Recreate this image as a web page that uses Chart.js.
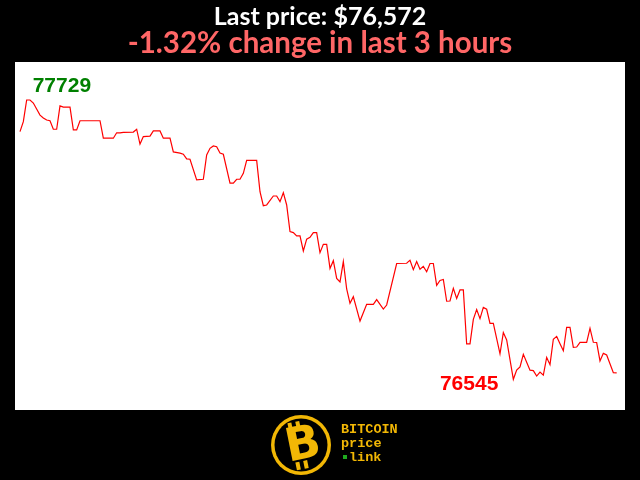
<!DOCTYPE html>
<html>
<head>
<meta charset="utf-8">
<script src="https://cdn.jsdelivr.net/npm/chart.js@4.4.0/dist/chart.umd.min.js"></script>
<style>
    html, body { margin: 0; padding: 0; background: #000; }
    canvas { display: block; }
</style>
</head>
<body>
<canvas id="priceChart" width="640" height="480"></canvas>
<script>
// minutes since start of the 3 hour window
const minutes = [0, 1, 2, 3, 4, 6, 7, 8, 9, 10, 11, 12, 13, 14, 15, 16, 17, 18, 24, 25,
    28, 29, 30, 31, 34, 35, 36, 37, 39, 40, 42, 43, 45, 46, 48, 49, 50, 51, 53, 55,
    56, 57, 58, 59, 60, 61, 63, 64, 65, 66, 67, 68, 71, 72, 73, 74, 76, 77, 78, 79,
    80, 81, 82, 83, 84, 85, 86, 87, 88, 89, 90, 91, 92, 93, 94, 95, 96, 97, 98, 99,
    100, 102, 104, 106, 107, 109, 110, 113, 116, 117, 118, 119, 120, 121, 122, 123, 124, 125, 126, 127,
    128, 129, 130, 131, 132, 133, 134, 135, 136, 137, 138, 139, 140, 141, 142, 144, 145, 146, 148, 149,
    150, 151, 153, 154, 155, 156, 157, 158, 159, 160, 161, 162, 163, 164, 165, 166, 167, 168, 170, 171,
    172, 173, 174, 175, 176, 178, 179];

const prices = [77595, 77637, 77729, 77729, 77716, 77665, 77653, 77644, 77641, 77605, 77605, 77704, 77699, 77699, 77699, 77602, 77602, 77641, 77641, 77567,
    77567, 77590, 77590, 77592, 77593, 77605, 77542, 77574, 77576, 77598, 77598, 77567, 77567, 77509, 77504, 77499, 77479, 77478, 77390, 77393,
    77496, 77524, 77534, 77531, 77504, 77499, 77377, 77377, 77393, 77393, 77418, 77473, 77473, 77340, 77281, 77284, 77322, 77322, 77298, 77336,
    77284, 77171, 77167, 77153, 77153, 77089, 77139, 77147, 77167, 77167, 77082, 77117, 77117, 77015, 77048, 76973, 76958, 77044, 76928, 76867,
    76895, 76792, 76863, 76863, 76883, 76843, 76860, 77036, 77037, 77050, 77010, 77044, 77012, 77024, 77001, 77036, 77036, 76943, 76964, 76968,
    76876, 76877, 76931, 76888, 76924, 76924, 76695, 76695, 76799, 76841, 76802, 76850, 76842, 76782, 76782, 76653, 76743, 76712, 76545, 76584,
    76598, 76651, 76584, 76582, 76559, 76576, 76563, 76638, 76607, 76715, 76727, 76696, 76666, 76765, 76765, 76681, 76682, 76702, 76702, 76761,
    76702, 76701, 76623, 76655, 76648, 76573, 76572];

const titleText = "Last price: $76,572";
const subtitleText = "-1.32% change in last 3 hours";

const points = minutes.map(function (m, i) {
    return { x: m, y: prices[i] };
});

// white plot background
const plotBackground = {
    id: "plotBackground",
    beforeDraw: function (chart) {
        const a = chart.chartArea;
        const ctx = chart.ctx;
        ctx.save();
        ctx.fillStyle = "#ffffff";
        ctx.fillRect(a.left, a.top, a.right - a.left, a.bottom - a.top);
        ctx.restore();
    },
};

// max / min value labels
const extremeLabels = {
    id: "extremeLabels",
    afterDatasetsDraw: function (chart) {
        const ctx = chart.ctx;
        const xs = chart.scales.x;
        const ys = chart.scales.y;
        const hi = Math.max.apply(null, prices);
        const lo = Math.min.apply(null, prices);
        const iHi = prices.indexOf(hi);
        const iLo = prices.indexOf(lo);
        ctx.save();
        ctx.font = "bold 21px 'Liberation Sans', Arial, sans-serif";
        ctx.textBaseline = "alphabetic";
        ctx.fillStyle = "#008000";
        ctx.textAlign = "left";
        ctx.fillText(String(hi), xs.getPixelForValue(minutes[iHi]) + 6, ys.getPixelForValue(hi) - 8);
        ctx.fillStyle = "#ff0000";
        ctx.textAlign = "right";
        ctx.fillText(String(lo), xs.getPixelForValue(minutes[iLo]) - 15, ys.getPixelForValue(lo) + 11);
        ctx.restore();
    },
};

// bitcoin price link logo under the chart
const logo = {
    id: "logo",
    afterDraw: function (chart) {
        const ctx = chart.ctx;
        const gold = "#f2b705";
        const cx = 301, cy = 445;
        ctx.save();
        ctx.beginPath();
        ctx.arc(cx, cy, 30, 0, Math.PI * 2);
        ctx.fillStyle = gold;
        ctx.fill();
        ctx.beginPath();
        ctx.arc(cx, cy, 26.5, 0, Math.PI * 2);
        ctx.fillStyle = "#000";
        ctx.fill();
        ctx.translate(cx, cy);
        ctx.rotate(-0.2);
        ctx.fillStyle = gold;
        ctx.fillRect(-9, -24, 4, 8);
        ctx.fillRect(-1, -24, 4, 8);
        ctx.fillRect(-9, 16, 4, 8);
        ctx.fillRect(-1, 16, 4, 8);
        ctx.font = "bold 46px 'DejaVu Sans', sans-serif";
        ctx.textAlign = "center";
        ctx.textBaseline = "middle";
        ctx.fillText("B", 2, 2);
        ctx.restore();

        ctx.save();
        ctx.fillStyle = gold;
        ctx.font = "bold 13.5px 'Liberation Mono', 'DejaVu Sans Mono', monospace";
        ctx.textAlign = "left";
        ctx.textBaseline = "alphabetic";
        ctx.fillText("BITCOIN", 341, 433);
        ctx.fillText("price", 341, 447);
        ctx.fillText("link", 349, 461);
        ctx.fillStyle = "#1faa1f";
        ctx.fillRect(343, 455, 4, 4);
        ctx.restore();
    },
};

new Chart(document.getElementById("priceChart"), {
    type: "line",
    data: {
        datasets: [
            {
                data: points,
                borderColor: "#ff0000",
                borderWidth: 1.2,
                pointRadius: 0,
                tension: 0,
                fill: false,
            },
        ],
    },
    options: {
        responsive: false,
        animation: false,
        events: [],
        layout: {
            padding: { left: 15, right: 15, top: 0, bottom: 70 },
        },
        scales: {
            x: { type: "linear", min: -1.5, max: 181.5, display: false },
            y: { min: 76415, max: 77890, display: false },
        },
        plugins: {
            legend: { display: false },
            tooltip: { enabled: false },
            title: {
                display: true,
                text: titleText,
                color: "#ffffff",
                font: { family: "Lato, sans-serif", size: 25, weight: "bold", lineHeight: 1.0 },
                padding: { top: 4, bottom: 0 },
            },
            subtitle: {
                display: true,
                text: subtitleText,
                color: "#ff6666",
                font: { family: "Lato, sans-serif", size: 29.5, weight: "bold", lineHeight: 1.0 },
                padding: { top: 0, bottom: 3.5 },
            },
        },
    },
    plugins: [plotBackground, extremeLabels, logo],
});
</script>
</body>
</html>
